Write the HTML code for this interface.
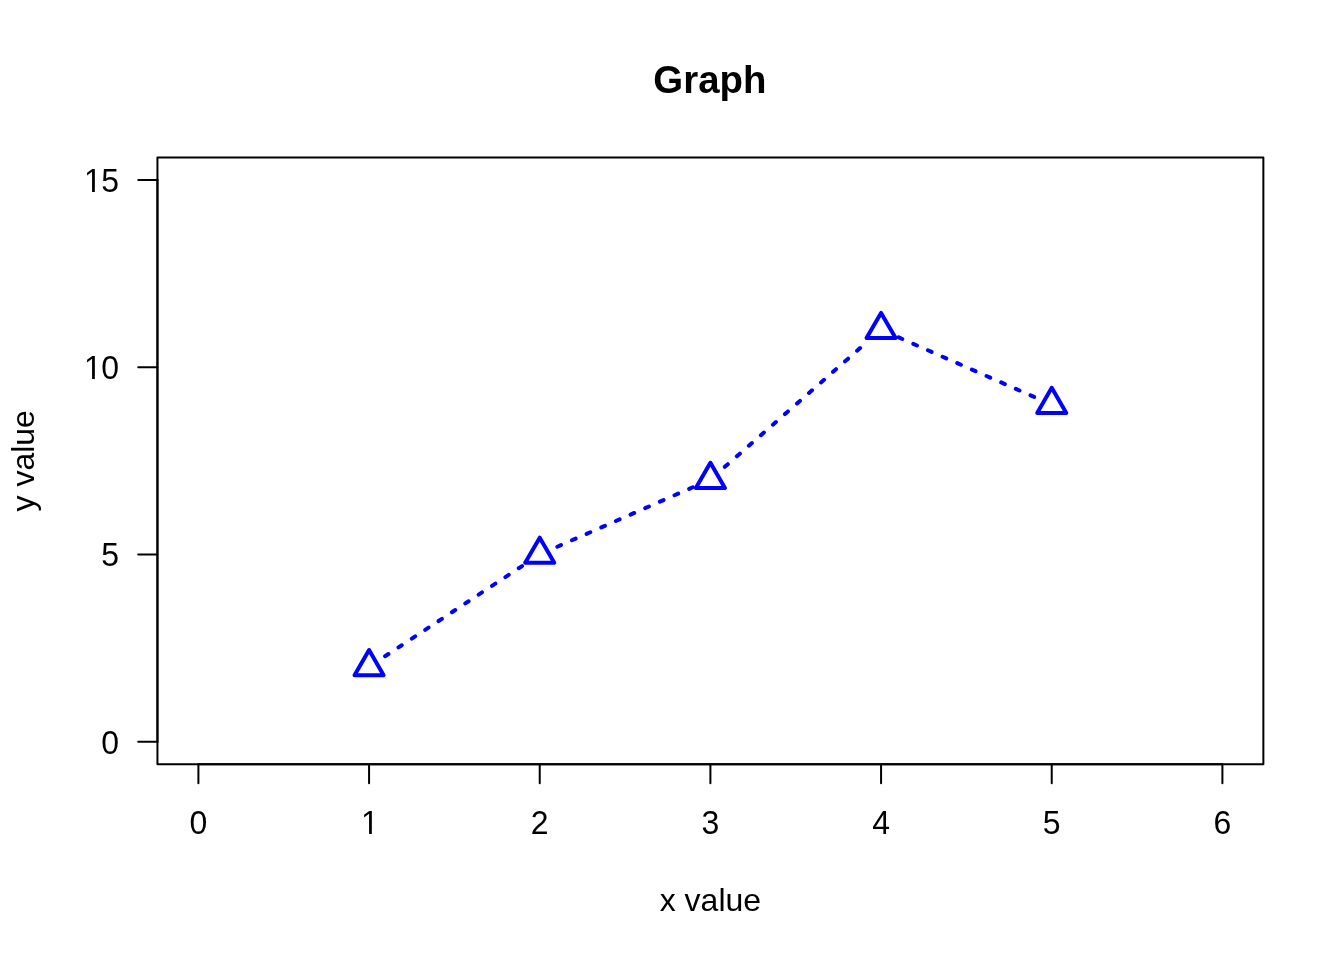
<!DOCTYPE html>
<html lang="en"><head><meta charset="utf-8"><title>Graph</title>
<style>
html,body{margin:0;padding:0;background:#fff;}
body{width:1344px;height:960px;overflow:hidden;}
svg{display:block;}
svg text{font-family:"Liberation Sans",Arial,Helvetica,sans-serif;fill:#000;}
.ax{font-size:32px;}
.ttl{font-size:38.4px;font-weight:bold;}
.k{stroke:#000;stroke-width:2;fill:none;stroke-linecap:round;stroke-linejoin:round;}
.b{stroke:#0000ff;stroke-width:4;fill:none;stroke-linecap:round;stroke-linejoin:round;}
</style></head><body>
<svg width="1344" height="960" viewBox="0 0 1344 960">
<rect width="1344" height="960" fill="#fff"/>
<g class="b" stroke-dasharray="4 12">
<line x1="385.1" y1="656.23" x2="523.7" y2="564.99"/>
<line x1="557.31" y1="546.71" x2="692.82" y2="487.24"/>
<line x1="724.83" y1="466.86" x2="866.64" y2="342.38"/>
<line x1="898.65" y1="337.43" x2="1034.15" y2="396.91"/>
</g>
<g class="b">
<polygon points="369.07,649.99 383.61,675.18 354.52,675.18"/>
<polygon points="539.73,537.63 554.28,562.83 525.19,562.83"/>
<polygon points="710.4,462.73 724.95,487.92 695.85,487.92"/>
<polygon points="881.07,312.92 895.61,338.12 866.52,338.12"/>
<polygon points="1051.73,387.83 1066.28,413.02 1037.19,413.02"/>
</g>
<g class="k">
<rect x="157.44" y="157.44" width="1105.92" height="606.72"/>
<line x1="198.4" y1="764.16" x2="1222.4" y2="764.16"/>
<line x1="198.4" y1="764.16" x2="198.4" y2="783.36"/>
<line x1="369.07" y1="764.16" x2="369.07" y2="783.36"/>
<line x1="539.73" y1="764.16" x2="539.73" y2="783.36"/>
<line x1="710.4" y1="764.16" x2="710.4" y2="783.36"/>
<line x1="881.07" y1="764.16" x2="881.07" y2="783.36"/>
<line x1="1051.73" y1="764.16" x2="1051.73" y2="783.36"/>
<line x1="1222.4" y1="764.16" x2="1222.4" y2="783.36"/>
<line x1="157.44" y1="741.69" x2="157.44" y2="179.91"/>
<line x1="157.44" y1="741.69" x2="138.24" y2="741.69"/>
<line x1="157.44" y1="554.43" x2="138.24" y2="554.43"/>
<line x1="157.44" y1="367.17" x2="138.24" y2="367.17"/>
<line x1="157.44" y1="179.91" x2="138.24" y2="179.91"/>
</g>
<g class="ax" text-anchor="middle">
<text transform="translate(198.4,834.2) scale(1,1.04)">0</text>
<text transform="translate(369.87,834.2) scale(1,1.04)">1</text>
<text transform="translate(539.73,834.2) scale(1,1.04)">2</text>
<text transform="translate(710.4,834.2) scale(1,1.04)">3</text>
<text transform="translate(881.07,834.2) scale(1,1.04)">4</text>
<text transform="translate(1051.73,834.2) scale(1,1.04)">5</text>
<text transform="translate(1222.4,834.2) scale(1,1.04)">6</text>
</g>
<g class="ax" text-anchor="end">
<text transform="translate(119.04,753.64) scale(1,1.04)">0</text>
<text transform="translate(119.04,566.38) scale(1,1.04)">5</text>
<text text-anchor="start" x="84 101.24" transform="translate(0,379.12) scale(1,1.04)">10</text>
<text text-anchor="start" x="84 101.24" transform="translate(0,191.86) scale(1,1.04)">15</text>
</g>
<text class="ax" text-anchor="middle" x="710.4" y="911.03">x value</text>
<text class="ax" text-anchor="middle" transform="translate(34.26,460.8) rotate(-90)">y value</text>
<text class="ttl" text-anchor="middle" x="709.9" y="93">Graph</text>
<g fill="#fff">
<rect x="362" y="830.8" width="7.05" height="4.8"/><rect x="371.86" y="830.8" width="6.74" height="4.8"/>
<rect x="85.4" y="375.72" width="6.65" height="4.8"/><rect x="94.86" y="375.72" width="6.64" height="4.8"/>
<rect x="85.4" y="188.46" width="6.65" height="4.8"/><rect x="94.86" y="188.46" width="6.64" height="4.8"/>
</g>
</svg>
</body></html>
